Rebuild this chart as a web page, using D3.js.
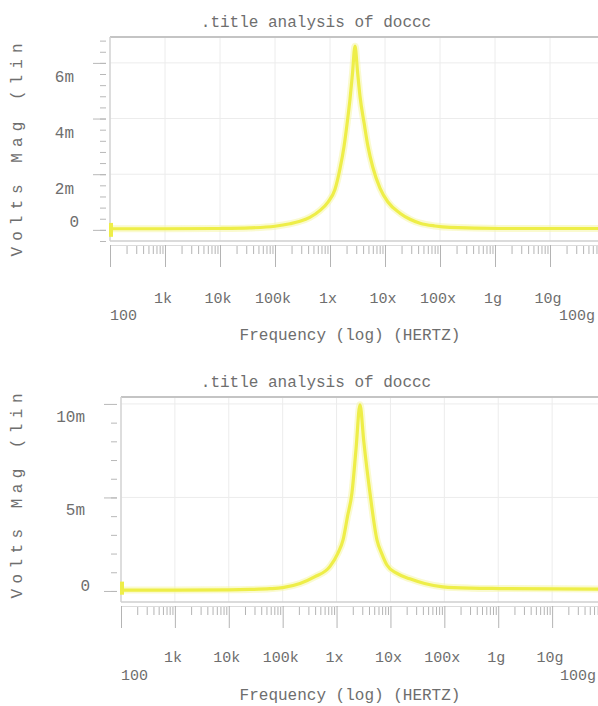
<!DOCTYPE html>
<html>
<head>
<meta charset="utf-8">
<script src="https://cdn.jsdelivr.net/npm/d3@7"></script>
<style>
  body { margin: 0; background: #fff; overflow: hidden; }
  svg { display: block; background: #fff; }
  text { font-family: "Liberation Mono", "DejaVu Sans Mono", monospace; fill: #6e6e6e; }
</style>
</head>
<body>
<svg id="chart" width="598" height="706"></svg>
<script>
// Labels
const titleText = ".title analysis of doccc";
const xTitleText = "Frequency (log) (HERTZ)";
const yTitleText = "Volts Mag (lin";

// Decade ticks of the frequency axis and their SPICE-style labels
const freqTickValues = [1e2, 1e3, 1e4, 1e5, 1e6, 1e7, 1e8, 1e9, 1e10, 1e11];
const freqTickLabels = ["100", "1k", "10k", "100k", "1x", "10x", "100x", "1g", "10g", "100g"];

// Upper sweep: frequency (Hz) and magnitude (V)
const upperFreq  = [1e2, 1e3, 1e4, 3.5e4, 1e5, 1.87e5, 2.85e5, 4.3e5, 6.6e5, 9.2e5, 1.23e6, 1.52e6, 1.8e6, 2.07e6, 2.31e6, 2.56e6, 2.85e6,
                    3.16e6, 3.51e6, 4.2e6, 4.9e6, 6.0e6, 8.1e6, 1.13e7, 1.87e7, 2.85e7, 4.33e7, 8.1e7, 1.52e8, 1.2e9, 1e11];
const upperVolts = [0.04e-3, 0.04e-3, 0.05e-3, 0.07e-3, 0.13e-3, 0.22e-3, 0.31e-3, 0.45e-3, 0.7e-3, 1.0e-3, 1.45e-3, 2.2e-3, 3.0e-3, 3.9e-3, 4.7e-3, 5.6e-3, 6.6e-3,
                    5.7e-3, 4.8e-3, 3.8e-3, 3.0e-3, 2.25e-3, 1.5e-3, 1.0e-3, 0.6e-3, 0.38e-3, 0.24e-3, 0.14e-3, 0.09e-3, 0.05e-3, 0.05e-3];
const upperStartBlip = [0.25e-3, -0.25e-3];
const upperYTicks  = [0, 2e-3, 4e-3, 6e-3];
const upperYLabels = ["0", "2m", "4m", "6m"];

// Lower sweep: frequency (Hz) and magnitude (V)
const lowerFreq  = [1e2, 1e3, 1e4, 2.5e4, 5.8e4, 1e5, 2.1e5, 3.9e5, 7.5e5, 1.05e6, 1.32e6, 1.6e6, 1.93e6, 2.3e6, 2.72e6,
                    3.2e6, 4.17e6, 5.62e6, 6.9e6, 8.6e6, 1.3e7, 2.29e7, 4.3e7, 9.4e7, 3.1e8, 1.07e9, 1e11];
const lowerVolts = [0.05e-3, 0.05e-3, 0.06e-3, 0.08e-3, 0.12e-3, 0.18e-3, 0.4e-3, 0.75e-3, 1.3e-3, 2.0e-3, 2.73e-3, 4.0e-3, 5.24e-3, 7.6e-3, 9.95e-3,
                    8.0e-3, 5.24e-3, 2.73e-3, 2.0e-3, 1.39e-3, 0.95e-3, 0.65e-3, 0.4e-3, 0.22e-3, 0.15e-3, 0.13e-3, 0.1e-3];
const lowerStartBlip = [0.5e-3, -0.2e-3];
const lowerYTicks  = [0, 5e-3, 10e-3];
const lowerYLabels = ["0", "5m", "10m"];

const svg = d3.select("#chart");

function drawPanel(p) {
  const x = d3.scaleLog().domain([1e2, 1e11]).range([p.left, p.right]);
  const y = d3.scaleLinear().domain(p.yDomain).range([p.bottom, p.top]);
  const g = svg.append("g");

  // grid
  g.append("g").selectAll("line").data(freqTickValues).join("line")
    .attr("x1", d => x(d)).attr("x2", d => x(d))
    .attr("y1", p.top).attr("y2", p.bottom)
    .attr("stroke", "#ececec").attr("stroke-width", 1);
  g.append("g").selectAll("line").data(p.yTicks.filter(v => v !== 0)).join("line")
    .attr("x1", p.left).attr("x2", p.right)
    .attr("y1", d => y(d)).attr("y2", d => y(d))
    .attr("stroke", "#ececec").attr("stroke-width", 1);

  // frame
  g.append("line").attr("x1", p.left).attr("x2", p.right).attr("y1", p.top).attr("y2", p.top)
    .attr("stroke", "#c4c4c4").attr("stroke-width", 2);
  g.append("line").attr("x1", p.left).attr("x2", p.left).attr("y1", p.top).attr("y2", p.bottom)
    .attr("stroke", "#d4d4d4").attr("stroke-width", 1.5);
  g.append("line").attr("x1", p.left).attr("x2", p.right).attr("y1", p.bottom).attr("y2", p.bottom)
    .attr("stroke", "#cfcfcf").attr("stroke-width", 1.5);

  // x axis: minor ticks at 2..9 of every decade, major at each decade
  const minorX = [];
  freqTickValues.slice(0, -1).forEach(d => { for (let k = 2; k <= 9; k++) minorX.push(d * k); });
  const xAxisY = p.bottom + 4;
  const xMinor = g.append("g").attr("transform", `translate(0,${xAxisY})`)
    .call(d3.axisBottom(x).tickValues(minorX).tickSize(9).tickFormat(""));
  const xMajor = g.append("g").attr("transform", `translate(0,${xAxisY})`)
    .call(d3.axisBottom(x).tickValues(freqTickValues).tickSize(22).tickFormat(""));
  [xMinor, xMajor].forEach(a => {
    a.selectAll(".tick line").attr("stroke", "#b4b4b4");
    a.select(".domain").attr("stroke", "#dcdcdc");
  });

  // frequency labels (first and last ones dropped to a second row)
  const n = freqTickLabels.length;
  g.append("g").selectAll("text").data(freqTickValues).join("text")
    .attr("x", (d, i) => i === 0 ? x(d) : i === n - 1 ? x(d) - 10 : x(d) - 2)
    .attr("y", (d, i) => (i === 0 || i === n - 1) ? p.labelRow2 : p.labelRow1)
    .attr("text-anchor", (d, i) => i === 0 ? "start" : i === n - 1 ? "end" : "middle")
    .attr("font-size", 15)
    .text((d, i) => freqTickLabels[i]);

  g.append("text").attr("x", 350).attr("y", p.xTitleY)
    .attr("text-anchor", "middle").attr("font-size", 16).text(xTitleText);

  // y axis
  const yAxisX = p.left - 4;
  const minorY = d3.range(p.yDomain[0] + 1e-9, p.yDomain[1], p.minorStep)
    .map(v => Math.round(v / p.minorStep) * p.minorStep)
    .filter(v => v >= p.yDomain[0] && v <= p.yDomain[1]);
  const yMinor = g.append("g").attr("transform", `translate(${yAxisX},0)`)
    .call(d3.axisLeft(y).tickValues(minorY).tickSize(6).tickFormat(""));
  const yMajor = g.append("g").attr("transform", `translate(${yAxisX},0)`)
    .call(d3.axisLeft(y).tickValues(p.yTicks).tickSize(13).tickFormat(""));
  [yMinor, yMajor].forEach(a => {
    a.selectAll(".tick line").attr("stroke", "#b8b8b8");
    a.select(".domain").remove();
  });

  g.append("g").selectAll("text").data(p.yTicks).join("text")
    .attr("x", d => d === 0 ? p.left - 31 : p.left - 36)
    .attr("y", d => y(d) + (d === 0 ? p.zeroLabelShift : p.labelShift))
    .attr("dy", "0.35em")
    .attr("text-anchor", "end").attr("font-size", 16)
    .text((d, i) => p.yLabels[i]);

  g.append("text")
    .attr("transform", `translate(22,${p.yTitleCenter}) rotate(-90)`)
    .attr("text-anchor", "middle")
    .attr("textLength", p.yTitleLength).attr("lengthAdjust", "spacing")
    .attr("font-size", 16).text(yTitleText);

  // title
  g.append("text").attr("x", 316).attr("y", p.titleY)
    .attr("text-anchor", "middle").attr("font-size", 16).text(titleText);

  // response curve
  const pts = p.freq.map((f, i) => [f, p.volts[i]]);
  const line = d3.line().x(d => x(d[0])).y(d => y(d[1])).curve(d3.curveMonotoneX);
  const blip = d3.line().x(() => x(p.freq[0]) + 1).y(d => y(d));
  g.append("path").attr("d", line(pts)).attr("fill", "none")
    .attr("stroke", "#f6f6a8").attr("stroke-width", 7).attr("stroke-opacity", 0.55);
  g.append("path").attr("d", line(pts)).attr("fill", "none")
    .attr("stroke", "#eeee48").attr("stroke-width", 3.2).attr("stroke-linejoin", "round");
  g.append("path").attr("d", blip(p.startBlip)).attr("fill", "none")
    .attr("stroke", "#eeee48").attr("stroke-width", 4);
}

drawPanel({
  left: 110, right: 605, top: 37, bottom: 241,
  yDomain: [-0.4e-3, 6.93e-3], minorStep: 0.4e-3,
  yTicks: upperYTicks, yLabels: upperYLabels,
  labelShift: 14, zeroLabelShift: -8,
  freq: upperFreq, volts: upperVolts, startBlip: upperStartBlip,
  titleY: 27, labelRow1: 303, labelRow2: 320, xTitleY: 340,
  yTitleCenter: 150, yTitleLength: 213
});

drawPanel({
  left: 121, right: 606, top: 397, bottom: 602,
  yDomain: [-0.59e-3, 10.37e-3], minorStep: 1e-3,
  yTicks: lowerYTicks, yLabels: lowerYLabels,
  labelShift: 12, zeroLabelShift: -6,
  freq: lowerFreq, volts: lowerVolts, startBlip: lowerStartBlip,
  titleY: 387, labelRow1: 662, labelRow2: 680, xTitleY: 700,
  yTitleCenter: 496, yTitleLength: 205
});
</script>
</body>
</html>
